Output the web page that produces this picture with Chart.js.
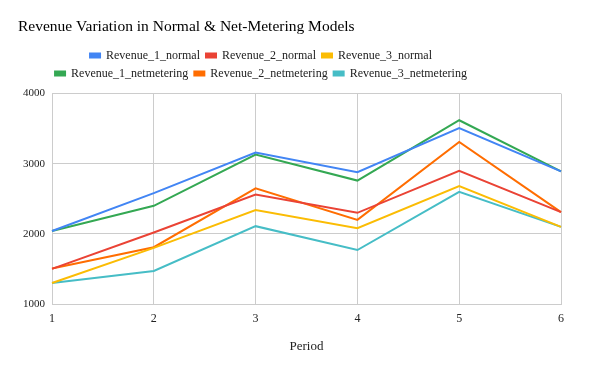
<!DOCTYPE html>
<html>
<head>
<meta charset="utf-8">
<script src="https://cdn.jsdelivr.net/npm/chart.js@4/dist/chart.umd.min.js"></script>
<style>
  body { margin: 0; background: #fff; }
  #wrap { width: 600px; height: 371px; }
</style>
</head>
<body>
<div id="wrap"><canvas id="revChart" width="600" height="371"></canvas></div>
<script>
const periods = ['1', '2', '3', '4', '5', '6'];
const rev1Normal = [2040, 2580, 3160, 2880, 3510, 2890];
const rev2Normal = [1500, 2020, 2560, 2300, 2900, 2310];
const rev3Normal = [1300, 1800, 2340, 2080, 2680, 2100];
const rev1Net = [2040, 2400, 3130, 2760, 3620, 2890];
const rev2Net = [1505, 1810, 2650, 2200, 3310, 2310];
const rev3Net = [1300, 1470, 2110, 1770, 2600, 2100];
const yTicks = [1000, 2000, 3000, 4000];

const serif = "'Liberation Serif', 'DejaVu Serif', serif";
const gridColor = '#cccccc';

function series(label, data, color) {
    return {
        label: label,
        data: data,
        borderColor: color,
        backgroundColor: color,
        borderWidth: 2,
        pointRadius: 0,
        tension: 0,
        fill: false
    };
}

// three legend items per row, a bit of room under the legend,
// and rows centred the way the original sits (around x = 261)
const legendRows = {
    id: 'legendRows',
    beforeUpdate(chart) {
        const lg = chart.legend;
        if (lg && !lg._patched) {
            const origUpdate = lg.update.bind(lg);
            const origFit = lg.fit.bind(lg);
            lg.update = (w, h, m) => origUpdate(Math.min(w, 470), h, m);
            lg.fit = () => { origFit(); lg.height += 4; };
            lg._patched = true;
        }
    },
    afterLayout(chart) {
        const lg = chart.legend;
        lg.left = 18;
        lg.right = 504;
        lg.width = lg.right - lg.left;
    }
};

const ctx = document.getElementById('revChart').getContext('2d');
new Chart(ctx, {
    type: 'line',
    data: {
        labels: periods,
        datasets: [
            series('Revenue_1_normal', rev1Normal, '#4285f4'),
            series('Revenue_2_normal', rev2Normal, '#ea4335'),
            series('Revenue_3_normal', rev3Normal, '#fbbc04'),
            series('Revenue_1_netmetering', rev1Net, '#34a853'),
            series('Revenue_2_netmetering', rev2Net, '#ff6d01'),
            series('Revenue_3_netmetering', rev3Net, '#46bdc6')
        ]
    },
    options: {
        responsive: false,
        animation: false,
        layout: { padding: { left: 18, right: 39, top: 0, bottom: 0 } },
        plugins: {
            title: {
                display: true,
                text: 'Revenue Variation in Normal & Net-Metering Models',
                align: 'start',
                color: '#000',
                font: { family: serif, size: 15.5, weight: 'normal' },
                padding: { top: 18, bottom: 7 }
            },
            legend: {
                position: 'top',
                labels: {
                    color: '#222',
                    font: { family: serif, size: 12 },
                    boxWidth: 10,
                    boxHeight: 4,
                    padding: 6
                }
            },
            tooltip: { enabled: false }
        },
        scales: {
            x: {
                grid: { color: gridColor, drawTicks: false },
                border: { color: gridColor },
                ticks: { color: '#222', font: { family: serif, size: 12 }, padding: 8 },
                title: {
                    display: true,
                    text: 'Period',
                    color: '#222',
                    font: { family: serif, size: 13 },
                    padding: { top: 4, bottom: 17 }
                }
            },
            y: {
                min: 1000,
                max: 4000,
                afterFit: (scale) => { scale.width = 34; },
                afterBuildTicks: (scale) => { scale.ticks = yTicks.map(v => ({ value: v })); },
                grid: { color: gridColor, drawTicks: false },
                border: { color: gridColor },
                ticks: {
                    color: '#222',
                    font: { family: serif, size: 11 },
                    padding: 7,
                    callback: (v) => String(v)
                }
            }
        }
    },
    plugins: [legendRows]
});
</script>
</body>
</html>
